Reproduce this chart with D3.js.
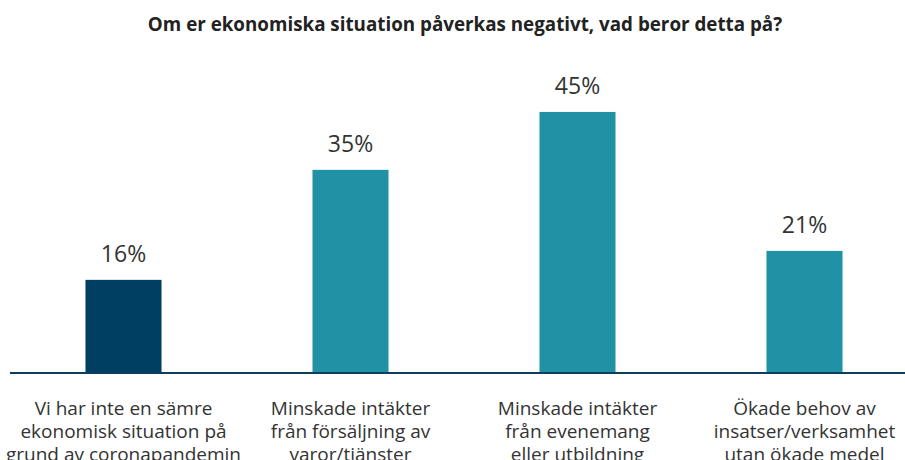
<!DOCTYPE html>
<html>
<head>
<meta charset="utf-8">
<script src="https://cdn.jsdelivr.net/npm/d3@7"></script>
<style>
  html, body { margin: 0; padding: 0; background: #fff; overflow: hidden; }
  svg { display: block; font-family: "Open Sans", "Noto Sans", sans-serif; }
</style>
</head>
<body>
<svg id="chart" width="905" height="460"></svg>
<script>
var title = "Om er ekonomiska situation påverkas negativt, vad beror detta på?";

var categories = [
  "Vi har inte en sämre ekonomisk situation på grund av coronapandemin",
  "Minskade intäkter från försäljning av varor/tjänster",
  "Minskade intäkter från evenemang eller utbildning",
  "Ökade behov av insatser/verksamhet utan ökade medel"
];

// label lines as they wrap in the picture
var labelLines = [
  ["Vi har inte en sämre", "ekonomisk situation på", "grund av coronapandemin"],
  ["Minskade intäkter", "från försäljning av", "varor/tjänster"],
  ["Minskade intäkter", "från evenemang", "eller utbildning"],
  ["Ökade behov av", "insatser/verksamhet", "utan ökade medel"]
];

var values = [16, 35, 45, 21];
var barColors = ["#013f62", "#2191a5", "#2191a5", "#2191a5"];

var data = categories.map(function(c, i) {
  return {cat: c, value: values[i], lines: labelLines[i], color: barColors[i]};
});

var svg = d3.select("#chart"),
    baseY = 372.5;

var x = d3.scaleBand()
    .domain(categories)
    .range([10, 918])
    .paddingInner(0.665)
    .paddingOuter(0.3325);

var y = d3.scaleLinear()
    .domain([0, 100])
    .range([baseY, baseY - 579]);

svg.append("text")
    .attr("x", 465)
    .attr("y", 30.5)
    .attr("text-anchor", "middle")
    .attr("font-weight", "bold")
    .attr("font-size", "18.8px")
    .attr("fill", "#222")
    .text(title);

svg.selectAll(".bar")
  .data(data)
  .enter().append("rect")
    .attr("class", "bar")
    .attr("x", function(d) { return x(d.cat); })
    .attr("y", function(d) { return y(d.value); })
    .attr("width", x.bandwidth())
    .attr("height", function(d) { return y(0) - y(d.value); })
    .attr("fill", function(d) { return d.color; });

svg.selectAll(".val")
  .data(data)
  .enter().append("text")
    .attr("class", "val")
    .attr("x", function(d) { return x(d.cat) + x.bandwidth() / 2; })
    .attr("y", function(d) { return y(d.value) - 18; })
    .attr("text-anchor", "middle")
    .attr("font-size", "23px")
    .attr("fill", "#333")
    .text(function(d) { return d.value + "%"; });

// baseline
svg.append("line")
    .attr("x1", 10).attr("x2", 905)
    .attr("y1", y(0) + 0.5).attr("y2", y(0) + 0.5)
    .attr("stroke", "#0d3e5e")
    .attr("stroke-width", 2);

var labels = svg.selectAll(".cat")
  .data(data)
  .enter().append("text")
    .attr("class", "cat")
    .attr("text-anchor", "middle")
    .attr("font-size", "19px")
    .attr("fill", "#333");

labels.selectAll("tspan")
  .data(function(d) { return d.lines.map(function(l) { return {t: l, cx: x(d.cat) + x.bandwidth() / 2}; }); })
  .enter().append("tspan")
    .attr("x", function(d) { return d.cx; })
    .attr("y", function(d, i) { return 414.5 + i * 23.3; })
    .text(function(d) { return d.t; });
</script>
</body>
</html>
